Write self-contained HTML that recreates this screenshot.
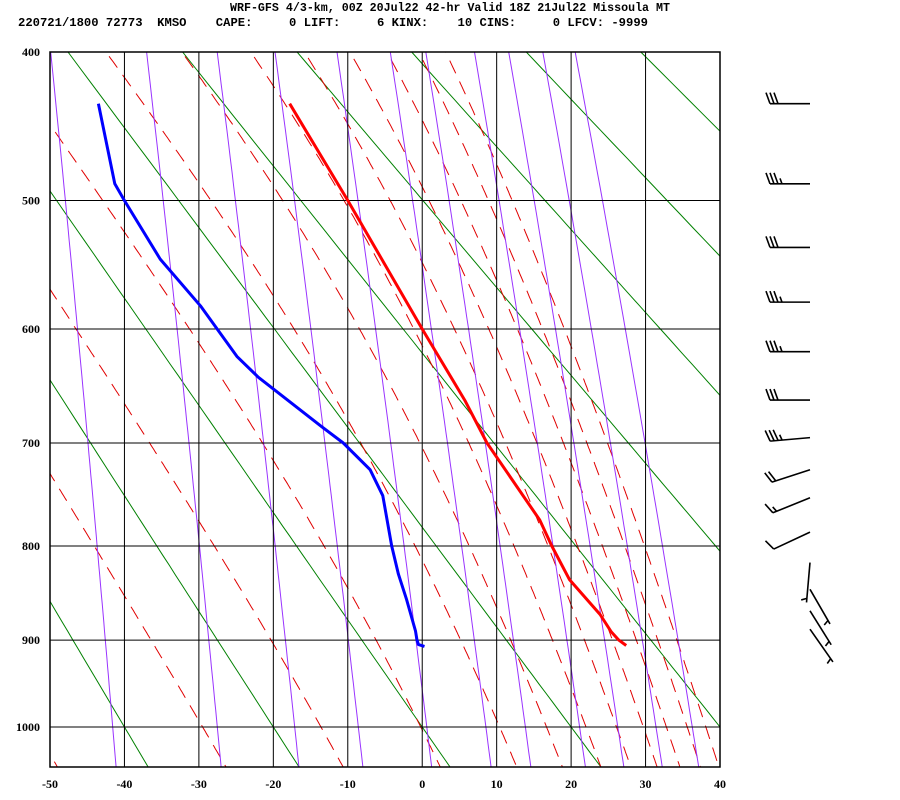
<!DOCTYPE html>
<html><head><meta charset="utf-8"><title>Sounding</title>
<style>
html,body{margin:0;padding:0;background:#fff;}
svg{display:block;font-family:"Liberation Mono",monospace;}
.hdr{font-weight:bold;font-size:12px;fill:#000;}
.lab{font-weight:bold;font-size:12px;fill:#000;font-family:"Liberation Serif",serif;}
</style></head>
<body>
<svg id="chart" width="900" height="800" viewBox="0 0 900 800" xmlns="http://www.w3.org/2000/svg">
<defs><clipPath id="plotclip"><rect x="50" y="52" width="670" height="715"/></clipPath></defs>
<text class="hdr" x="230" y="11" textLength="440" lengthAdjust="spacingAndGlyphs">WRF-GFS 4/3-km, 00Z 20Jul22 42-hr Valid 18Z 21Jul22 Missoula MT</text>
<text class="hdr" x="18" y="26" textLength="630" lengthAdjust="spacingAndGlyphs" xml:space="preserve">220721/1800 72773  KMSO    CAPE:     0 LIFT:     6 KINX:    10 CINS:     0 LFCV: -9999</text>
<g id="bg" clip-path="url(#plotclip)"></g>
<g id="grid"></g>
<g id="prof" clip-path="url(#plotclip)"></g>
<g id="axes"></g>
<g id="winds"></g>
</svg>
<script>
// ---- data ----
const tempP = [433, 500, 600, 661, 700, 774, 800, 835, 872, 891, 900, 906];
const tempT = [-17.8, -10.0, 0.0, 5.7, 8.7, 15.8, 17.4, 19.8, 23.9, 25.4, 26.4, 27.4];
const dewP = [433, 488, 500, 544, 581, 623, 641, 685, 700, 725, 750, 800, 829, 856, 890, 900, 905, 907];
const dewT = [-43.5, -41.3, -40.0, -35.2, -29.8, -24.9, -22.0, -13.5, -10.6, -7.0, -5.3, -4.1, -3.2, -2.1, -0.9, -0.7, -0.5, 0.3];
const windP = [433, 488, 535, 578, 619, 661, 695, 725, 752, 786, 817, 845, 868, 888];
const windDir = [270, 270, 270, 270, 270, 270, 265, 252, 248, 245, 185, 150, 148, 145];
const windSpd = [30, 35, 30, 35, 35, 30, 35, 20, 15, 10, 5, 5, 5, 5];
const xTicks = [-50, -40, -30, -20, -10, 0, 10, 20, 30, 40];
const yTicks = [400, 500, 600, 700, 800, 900, 1000];
const dryTheta = [-60, -40, -20, 0, 20, 40, 60, 80, 100, 120, 140];
const moistT1000 = [-52, -29.5, -13.6, -0.2, 10.4, 16.7, 22, 26.1, 29.7, 32.8, 35.6, 38.1];
const mixW = [0.1, 0.4, 1, 2, 4, 7, 10, 16, 22, 30, 40];

// ---- axes ----
const K = 0.286;
const p0k = Math.pow(400, K), p1k = Math.pow(1000, K);
function X(t) { return 50 + (t + 50) * 670 / 90; }
function Y(p) { return 52 + 675 * (Math.pow(p, K) - p0k) / (p1k - p0k); }
const NS = 'http://www.w3.org/2000/svg';
function mk(tag, parent, attrs) {
  const e = document.createElementNS(NS, tag);
  for (const k in attrs) e.setAttribute(k, attrs[k]);
  parent.appendChild(e);
  return e;
}
function pathFrom(pts) { return pts.map((q, i) => (i ? 'L' : 'M') + q[0].toFixed(1) + ',' + q[1].toFixed(1)).join(''); }
const bg = document.getElementById('bg'), grid = document.getElementById('grid');
const prof = document.getElementById('prof'), axes = document.getElementById('axes'), winds = document.getElementById('winds');

// dry adiabats (green)
dryTheta.forEach(th => {
  const pts = [];
  for (let p = 380; p <= 1060; p += 10) pts.push([X((th + 273.15) * Math.pow(p / 1000, K) - 273.15), Y(p)]);
  const e = mk('path', bg, {d: pathFrom(pts), stroke: '#008000', 'stroke-width': 1, fill: 'none'});
  
  
});
// moist adiabats (red dashed)
function lapse(T, p) {
  const Rd = 287.04, cp = 1005.7, Lv = 2.501e6, eps = 0.622;
  const es = 6.112 * Math.exp(17.67 * (T - 273.15) / (T - 29.65));
  const rs = eps * es / (p - es);
  const m = (Rd * T + Lv * rs) / (p * (cp + Lv * Lv * rs * eps / (Rd * T * T)));
  const d = Rd * T / (cp * p);
  return m + 0.15 * (d - m);
}
moistT1000.forEach(t0 => {
  const up = [], dn = [];
  let T = t0 + 273.15;
  for (let p = 1000; p >= 380; p -= 2) { up.push([X(T - 273.15), Y(p)]); T -= lapse(T, p) * 2; }
  T = t0 + 273.15;
  for (let p = 1000; p <= 1060; p += 2) { dn.push([X(T - 273.15), Y(p)]); T += lapse(T, p) * 2; }
  const pts = up.reverse().concat(dn.slice(1));
  const e = mk('path', bg, {d: pathFrom(pts), stroke: '#e00000', 'stroke-width': 1, fill: 'none', 'stroke-dasharray': '14 9'});
  
  
});
// mixing ratio lines (purple)
mixW.forEach(w => {
  const pts = [];
  for (let p = 380; p <= 1060; p += 10) {
    const e = w * p / (622 + w), l = Math.log(e / 6.112);
    pts.push([X(243.5 * l / (17.67 - l)), Y(p)]);
  }
  const e = mk('path', bg, {d: pathFrom(pts), stroke: '#9933ff', 'stroke-width': 1, fill: 'none'});
  
  
});
// grid
xTicks.forEach(t => {
  const e = mk('line', grid, {x1: X(t), x2: X(t), y1: 52, y2: 767, stroke: '#000', 'stroke-width': 1});
  
  
  const l = mk('text', axes, {x: X(t), y: 788, 'text-anchor': 'middle', class: 'lab'});
  l.textContent = t;
  
  
});
yTicks.forEach(p => {
  const e = mk('line', grid, {x1: 50, x2: 720, y1: Y(p), y2: Y(p), stroke: '#000', 'stroke-width': 1});
  
  
  const l = mk('text', axes, {x: 40, y: Y(p) + 4, 'text-anchor': 'end', class: 'lab'});
  l.textContent = p;
  
  
});
const fr = mk('rect', grid, {x: 50, y: 52, width: 670, height: 715, fill: 'none', stroke: '#000', 'stroke-width': 1.5});


// profiles
const tl = mk('path', prof, {d: pathFrom(tempP.map((p, i) => [X(tempT[i]), Y(p)])), stroke: '#ff0000', 'stroke-width': 3, fill: 'none', 'stroke-linejoin': 'round'});


const dl = mk('path', prof, {d: pathFrom(dewP.map((p, i) => [X(dewT[i]), Y(p)])), stroke: '#0000ff', 'stroke-width': 3, fill: 'none', 'stroke-linejoin': 'round'});


// wind barbs
windP.forEach((p, i) => {
  const cx = 810, cy = Y(p);
  const a = windDir[i] * Math.PI / 180;
  const u = [Math.sin(a), -Math.cos(a)], n = [-u[1], u[0]];
  const L = 40, tip = [cx + u[0] * L, cy + u[1] * L];
  const g = mk('g', winds, {stroke: '#000', 'stroke-width': 1.6, fill: 'none'});
  
  
  mk('line', g, {x1: cx, y1: cy, x2: tip[0], y2: tip[1]});
  let s = windSpd[i], k = 0;
  if (s < 10) k = 1;
  while (s >= 10) {
    const b = [tip[0] - u[0] * 4 * k, tip[1] - u[1] * 4 * k];
    mk('line', g, {x1: b[0], y1: b[1], x2: b[0] + n[0] * 11 + u[0] * 4, y2: b[1] + n[1] * 11 + u[1] * 4});
    s -= 10; k++;
  }
  if (s >= 5) {
    const b = [tip[0] - u[0] * 4 * k, tip[1] - u[1] * 4 * k];
    mk('line', g, {x1: b[0], y1: b[1], x2: b[0] + n[0] * 5.5 + u[0] * 2, y2: b[1] + n[1] * 5.5 + u[1] * 2});
  }
});
</script>
</body></html>
